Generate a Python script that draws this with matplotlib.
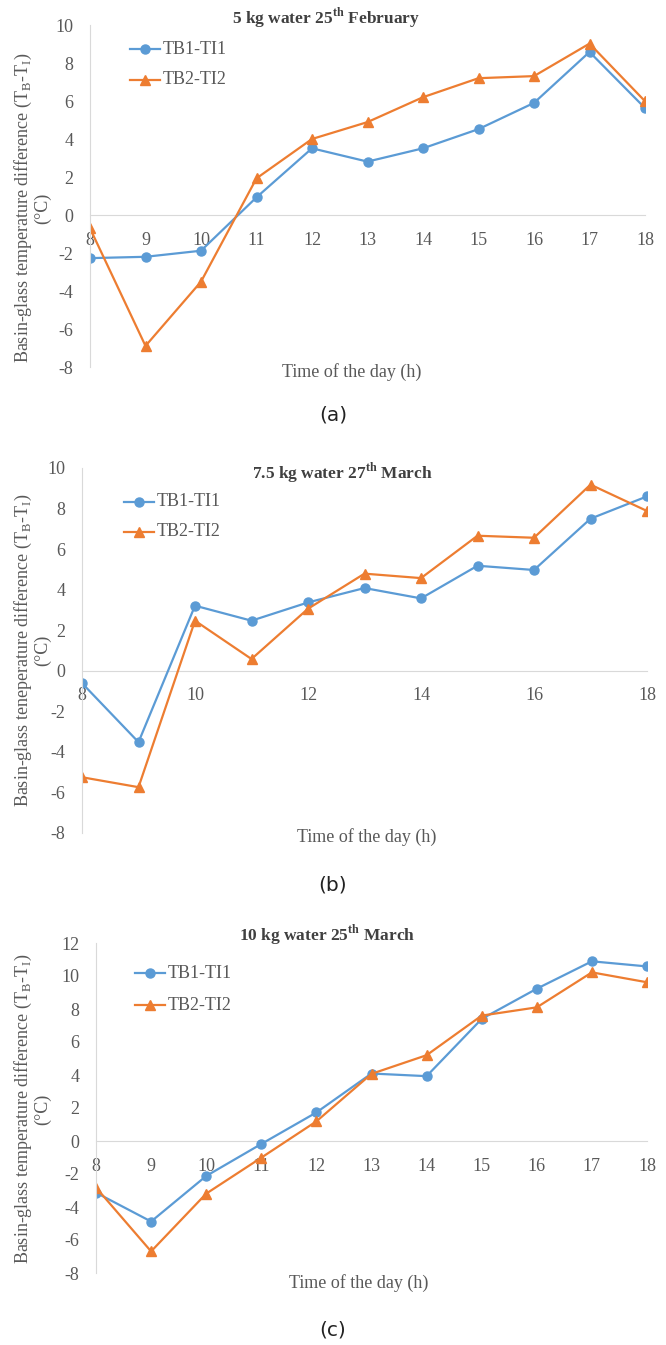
import numpy as np
import matplotlib
matplotlib.use('Agg')
import matplotlib.pyplot as plt

plt.rcParams['font.family'] = ['Liberation Serif', 'DejaVu Serif']
plt.rcParams['mathtext.fontset'] = 'custom'
plt.rcParams['mathtext.rm'] = 'Liberation Serif'
plt.rcParams['mathtext.bf'] = 'Liberation Serif:bold'
plt.rcParams['axes.unicode_minus'] = False

hours = [8, 9, 10, 11, 12, 13, 14, 15, 16, 17, 18]

# 5 kg water, 25th February
a_tb1 = [-2.27, -2.2, -1.88, 0.93, 3.51, 2.81, 3.51, 4.52, 5.9, 8.58, 5.63]
a_tb2 = [-0.7, -6.89, -3.51, 1.93, 4.0, 4.89, 6.2, 7.2, 7.31, 9.02, 5.99]

# 7.5 kg water, 27th March
b_tb1 = [-0.61, -3.52, 3.21, 2.47, 3.37, 4.08, 3.57, 5.18, 4.97, 7.5, 8.6]
b_tb2 = [-5.25, -5.74, 2.47, 0.58, 3.06, 4.79, 4.57, 6.66, 6.56, 9.18, 7.88]

# 10 kg water, 25th March
c_tb1 = [-3.13, -4.88, -2.12, -0.18, 1.73, 4.09, 3.93, 7.4, 9.23, 10.89, 10.58]
c_tb2 = [-2.82, -6.69, -3.19, -1.01, 1.19, 4.07, 5.2, 7.6, 8.1, 10.22, 9.62]

W, H = 666, 1345
BLUE = '#5b9bd5'
ORANGE = '#ed7d31'
GREY = '#595959'
AXC = '#d9d9d9'

fig = plt.figure(figsize=(W / 100, H / 100), dpi=100)


def fx(px):
    return px / W


def fy(py):
    return 1 - py / H


def panel(left, right, top, bottom, ymin, ymax, tb1, tb2, xt_step):
    ax = fig.add_axes([fx(left), fy(bottom), fx(right - left), (bottom - top) / H])
    ax.plot(hours, tb1, color=BLUE, lw=1.6, marker='o', ms=6.5, label='TB1-TI1')
    ax.plot(hours, tb2, color=ORANGE, lw=1.6, marker='^', ms=6.5, label='TB2-TI2')
    ax.set_xlim(8, 18)
    ax.set_ylim(ymin, ymax)
    ax.set_yticks(np.arange(ymin, ymax + 1, 2))
    ax.set_xticks(hours[::xt_step])
    for s in ['top', 'right']:
        ax.spines[s].set_visible(False)
    ax.spines['left'].set_color(AXC)
    ax.spines['bottom'].set_color(AXC)
    ax.spines['bottom'].set_position(('data', 0))
    ax.spines['bottom'].set_zorder(0)
    ax.tick_params(axis='both', length=0, colors=GREY, labelsize=13)
    ax.tick_params(axis='x', pad=12)
    ax.tick_params(axis='y', pad=12)
    ax.set_facecolor('none')
    return ax


def legend(x0, y1, y2):
    # legend drawn in figure pixels: short line with marker, then text
    for yy, col, mk, txt in [(y1, BLUE, 'o', 'TB1-TI1'), (y2, ORANGE, '^', 'TB2-TI2')]:
        fig.add_artist(plt.Line2D([fx(x0), fx(x0 + 30)], [fy(yy), fy(yy)], color=col, lw=1.6,
                                  transform=fig.transFigure))
        fig.add_artist(plt.Line2D([fx(x0 + 15)], [fy(yy)], color=col, marker=mk, ms=6.5,
                                  transform=fig.transFigure))
        fig.text(fx(x0 + 33), fy(yy), txt, ha='left', va='center', fontsize=13, color=GREY)


def labels(title, tx, ty, xlx, xly, ylx, yly, ytxt, tag, tag_y):
    fig.text(fx(tx), fy(ty), title, ha='center', va='center', fontsize=12.5,
             fontweight='bold', color='#404040')
    fig.text(fx(xlx), fy(xly), 'Time of the day (h)', ha='center', va='center',
             fontsize=13, color=GREY)
    fig.text(fx(ylx), fy(yly), ytxt, ha='center', va='center', rotation=90,
             multialignment='center', fontsize=13, color=GREY, linespacing=1.0)
    fig.text(fx(333), fy(tag_y), tag, ha='center', va='center', fontsize=14.5,
             color='#222222', family=['DejaVu Sans'])


ylab = 'Basin-glass temperature difference (T$_\\mathregular{B}$-T$_\\mathregular{I}$)\n(°C)'
ylab_b = 'Basin-glass teneperature difference (T$_\\mathregular{B}$-T$_\\mathregular{I}$)\n(°C)'

panel(90, 645, 25, 367, -8, 10, a_tb1, a_tb2, 1)
legend(130, 49, 80)
labels('5 kg water 25$^\\mathbf{th}$ February', 326, 18, 352, 372, 32, 208, ylab, '(a)', 415)

panel(82, 647, 468, 833, -8, 10, b_tb1, b_tb2, 2)
legend(124, 502, 532)
labels('7.5 kg water 27$^\\mathbf{th}$ March', 342, 473, 367, 837, 32, 650, ylab_b, '(b)', 885)

panel(96, 647, 943, 1273, -8, 12, c_tb1, c_tb2, 1)
legend(135, 973, 1005)
labels('10 kg water 25$^\\mathbf{th}$ March', 327, 935, 359, 1283, 32, 1109, ylab, '(c)', 1330)

fig.savefig('out.png', dpi=100)
